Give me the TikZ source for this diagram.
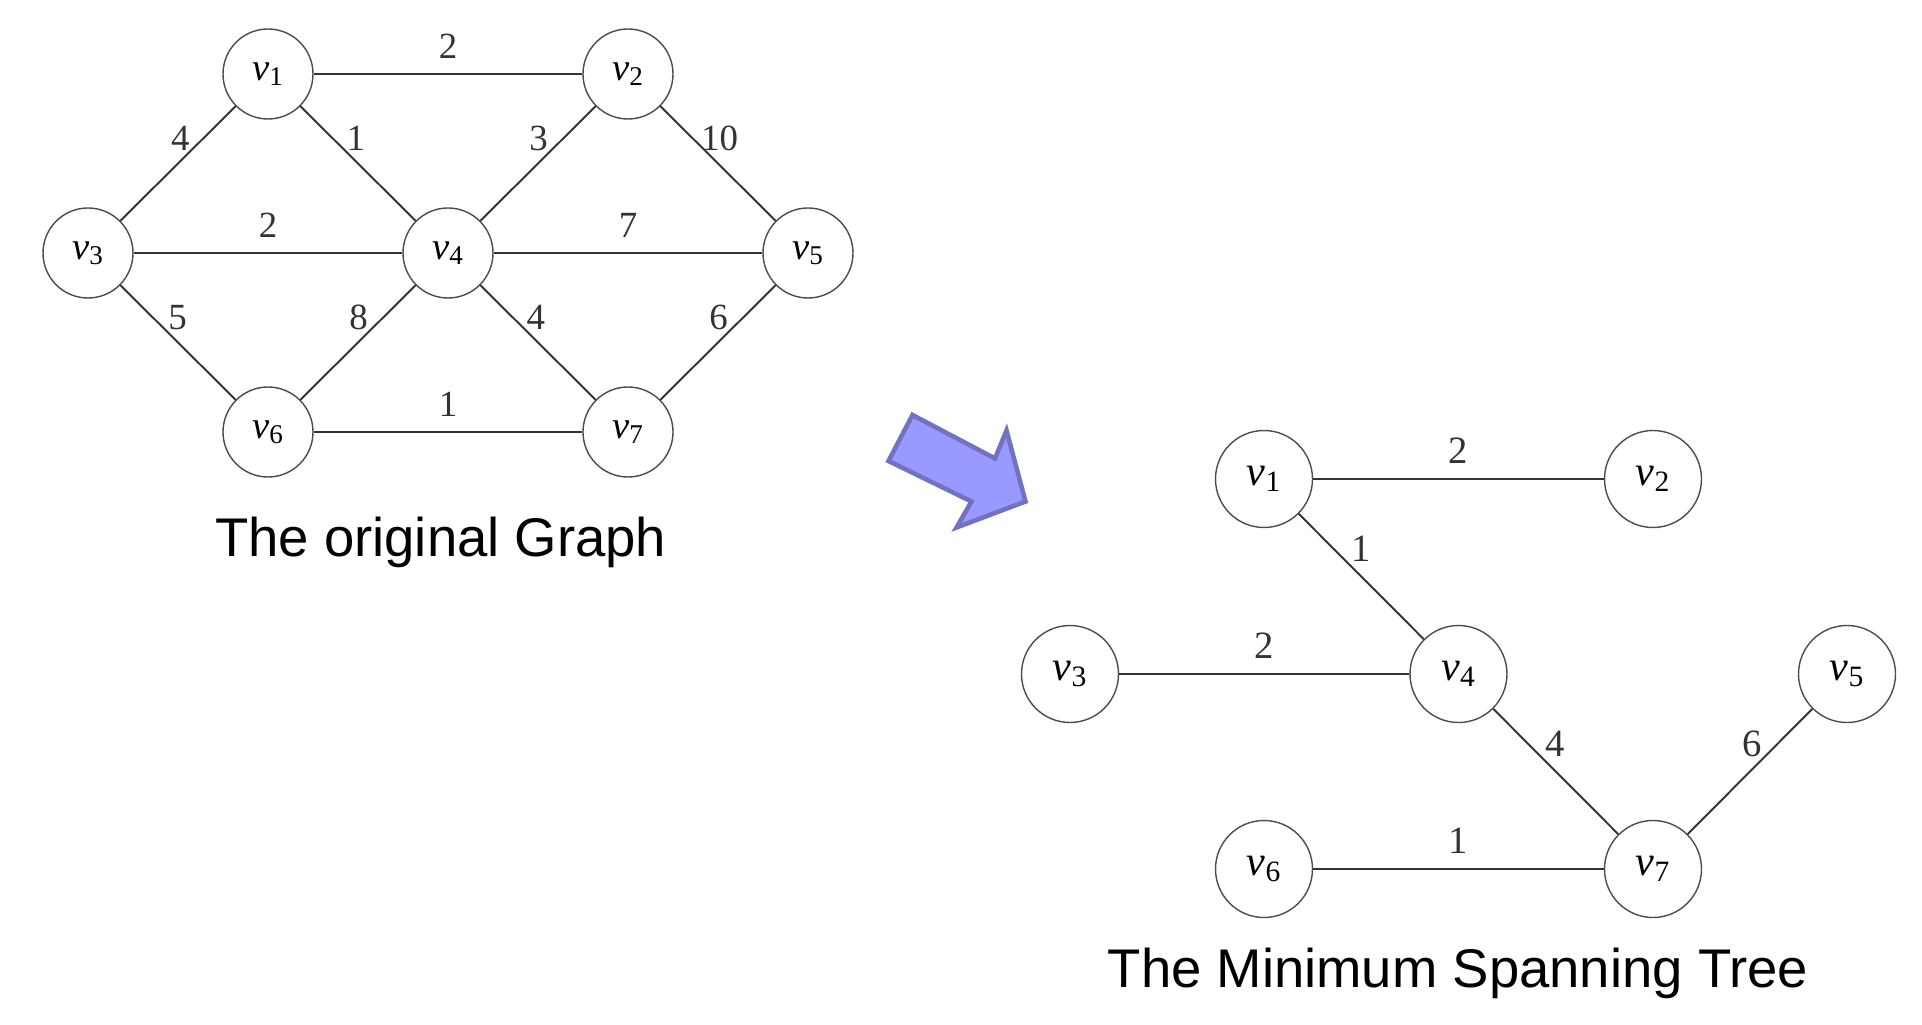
\documentclass[tikz,border=0pt]{standalone}
\usepackage{fontspec}
\setmainfont{Liberation Serif}
\newfontfamily\capfont{Liberation Sans}
\usepackage{xcolor}
\usetikzlibrary{positioning}

\definecolor{arrowfill}{HTML}{9999FF}
\definecolor{arrowline}{HTML}{7272C2}

\newcommand{\vlabel}[1]{\textit{v}\textsubscript{#1}}

\begin{document}
\begin{tikzpicture}[
    vertex/.style={circle, draw=black!70, line width=0.8pt, minimum size=1.8cm, inner sep=0pt, font={\fontsize{22}{26}\selectfont}},
    bigvertex/.style={vertex, minimum size=1.94cm, font={\fontsize{24}{28}\selectfont}},
    edge/.style={line width=1.1pt, black!80},
    weight/.style={font={\fontsize{21}{25}\selectfont}},
    bigweight/.style={font={\fontsize{22}{26}\selectfont}},
    caption/.style={anchor=base west, font={\capfont\fontsize{31}{36}\selectfont}},
    blockarrow/.style={fill=arrowfill, draw=arrowline, line width=2.6pt, line join=miter},
]
\useasboundingbox (0,0) rectangle (38.44,-20.5);

% === LEFT: THE ORIGINAL GRAPH ===

% --- ROW 1 (y=-1.48) ---
\node[vertex] (o1) at ( 5.36, -1.48) {\vlabel{1}};
\node[vertex] (o2) at (12.56, -1.48) {\vlabel{2}};

% --- ROW 2 (y=-5.06) ---
\node[vertex] (o3) at ( 1.76, -5.06) {\vlabel{3}};
\node[vertex] (o4) at ( 8.96, -5.06) {\vlabel{4}};
\node[vertex] (o5) at (16.16, -5.06) {\vlabel{5}};

% --- ROW 3 (y=-8.64) ---
\node[vertex] (o6) at ( 5.36, -8.64) {\vlabel{6}};
\node[vertex] (o7) at (12.56, -8.64) {\vlabel{7}};

% --- EDGES ---
\draw[edge] (o1) -- node[weight, above=5pt] {2} (o2);
\draw[edge] (o1) -- node[weight, pos=0.28, left=4pt] {4} (o3);
\draw[edge] (o1) -- node[weight, pos=0.28, right=4pt] {1} (o4);
\draw[edge] (o2) -- node[weight, pos=0.28, left=5pt] {3} (o4);
\draw[edge] (o2) -- node[weight, pos=0.28, right=1pt] {10} (o5);
\draw[edge] (o3) -- node[weight, above=5pt] {2} (o4);
\draw[edge] (o4) -- node[weight, above=5pt] {7} (o5);
\draw[edge] (o3) -- node[weight, pos=0.28, right=5pt] {5} (o6);
\draw[edge] (o4) -- node[weight, pos=0.28, left=5pt] {8} (o6);
\draw[edge] (o4) -- node[weight, pos=0.28, right=4pt] {4} (o7);
\draw[edge] (o5) -- node[weight, pos=0.28, left=5pt] {6} (o7);
\draw[edge] (o6) -- node[weight, above=5pt] {1} (o7);

\node[caption] (origcap) at (4.18, -11.13) {The original Graph};

% === ARROW ===
\draw[blockarrow] (18.25,-8.30) -- (17.77,-9.22) -- (19.43,-10.03) -- (19.13,-10.55)
    -- (20.51,-10.03) -- (20.13,-8.61) -- (19.90,-9.17) -- cycle;

% === RIGHT: THE MINIMUM SPANNING TREE ===

% --- ROW 1 (y=-9.58) ---
\node[bigvertex] (t1) at (25.28, -9.58) {\vlabel{1}};
\node[bigvertex] (t2) at (33.06, -9.58) {\vlabel{2}};

% --- ROW 2 (y=-13.48) ---
\node[bigvertex] (t3) at (21.40, -13.48) {\vlabel{3}};
\node[bigvertex] (t4) at (29.17, -13.48) {\vlabel{4}};
\node[bigvertex] (t5) at (36.94, -13.48) {\vlabel{5}};

% --- ROW 3 (y=-17.38) ---
\node[bigvertex] (t6) at (25.28, -17.38) {\vlabel{6}};
\node[bigvertex] (t7) at (33.06, -17.38) {\vlabel{7}};

% --- EDGES ---
\draw[edge] (t1) -- node[bigweight, above=5pt] {2} (t2);
\draw[edge] (t1) -- node[bigweight, pos=0.28, right=6pt] {1} (t4);
\draw[edge] (t3) -- node[bigweight, above=5pt] {2} (t4);
\draw[edge] (t4) -- node[bigweight, pos=0.28, right=6pt] {4} (t7);
\draw[edge] (t5) -- node[bigweight, pos=0.28, left=5pt] {6} (t7);
\draw[edge] (t6) -- node[bigweight, above=5pt] {1} (t7);

\node[caption] (mstcap) at (22.03, -19.75) {The Minimum Spanning Tree};

\end{tikzpicture}
\end{document}
